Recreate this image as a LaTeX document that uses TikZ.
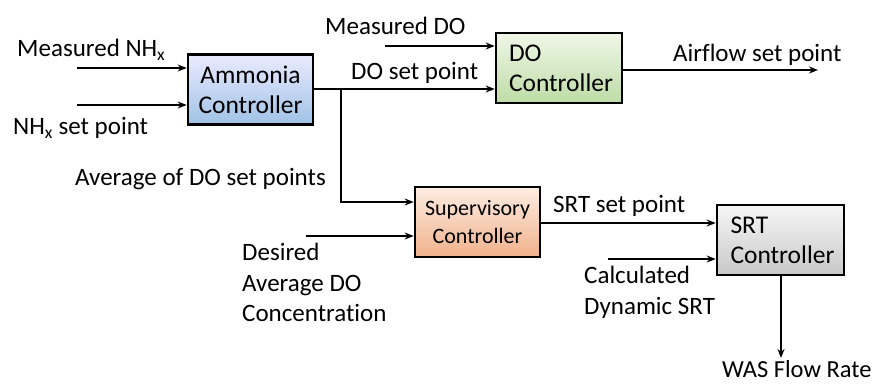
\documentclass[tikz,border=0pt]{standalone}
\usepackage{fontspec}
\setmainfont{Carlito}[Ligatures=NoCommon]
\usetikzlibrary{arrows.meta}
\begin{document}
\begin{tikzpicture}[x=1pt,y=-1pt,
  box/.style={draw=black,line width=2.6pt,minimum height=70pt,inner sep=0pt},
  lbl/.style={inner sep=0pt,anchor=base west,font=\fontsize{25}{30}\selectfont},
  conn/.style={line width=2.2pt,-{Stealth[length=9pt,width=7pt]}},
  wire/.style={line width=2.2pt}]
\useasboundingbox (0,0) rectangle (878,385);
% boxes
\node[box,minimum width=125pt,top color=blue!8!white,bottom color={rgb,255:red,160;green,194;blue,230},
  font=\fontsize{25.5}{30}\selectfont,align=center] (amm) at (250.5,89.5) {Ammonia\\Controller};
\node[box,minimum width=126pt,top color={rgb,255:red,240;green,247;blue,232},bottom color={rgb,255:red,190;green,220;blue,166},
  font=\fontsize{25.5}{30}\selectfont,align=left,text width=100pt] (do) at (559,68) {DO\\Controller};
\node[box,minimum width=125pt,top color={rgb,255:red,253;green,236;blue,226},bottom color={rgb,255:red,240;green,178;blue,140},
  font=\fontsize{22}{28}\selectfont,align=center] (sup) at (477.5,222) {Supervisory\\Controller};
\node[box,minimum width=127pt,top color={rgb,255:red,246;green,246;blue,246},bottom color={rgb,255:red,200;green,200;blue,200},
  font=\fontsize{25.5}{30}\selectfont,align=left,text width=100pt] (srt) at (780.5,240) {SRT\\Controller};
% labels
\node[lbl] (mnh) at (17,57) {Measured NH\textsubscript{x}};
\node[lbl] (nhsp) at (13,135) {NH\textsubscript{x} set point};
\node[lbl] (mdo) at (325,35) {Measured DO};
\node[lbl] (dosp) at (351,80) {DO set point};
\node[lbl] (air) at (673,62) {Airflow set point};
\node[lbl] (avg) at (75,185) {Average of DO set points};
\node[lbl] (srtsp) at (553,212) {SRT set point};
\node[lbl] (des1) at (242,260) {Desired};
\node[lbl] (des2) at (242,291) {Average DO};
\node[lbl] (des3) at (242,321) {Concentration};
\node[lbl] (cal1) at (584,283) {Calculated};
\node[lbl] (cal2) at (584,314) {Dynamic SRT};
\node[lbl,font=\fontsize{24.5}{30}\selectfont] (was) at (722,377) {WAS Flow Rate};
% connector free ends
\coordinate (i1) at (77,68);
\coordinate (i2) at (77,105);
\coordinate (i3) at (385,46);
\coordinate (j) at (341,89);
\coordinate (o1) at (818,70);
\coordinate (i4) at (306,236);
\coordinate (i5) at (608,259);
\coordinate (o2) at (781,358);
% connectors
\draw[conn] (i1) -- (i1 -| amm.west);
\draw[conn] (i2) -- (i2 -| amm.west);
\draw[conn] (i3) -- (i3 -| do.west);
\draw[wire] (amm.east |- j) -- (j);
\draw[conn] (j) -- (j -| do.west);
\draw[conn] (j) -- (341,202) -- (sup.west |- 0,202);
\draw[conn] (do.east |- o1) -- (o1);
\draw[conn] (i4) -- (i4 -| sup.west);
\draw[conn] (sup.east |- 0,223) -- (srt.west |- 0,223);
\draw[conn] (i5) -- (i5 -| srt.west);
\draw[conn] (srt.south -| o2) -- (o2);
\end{tikzpicture}
\end{document}
